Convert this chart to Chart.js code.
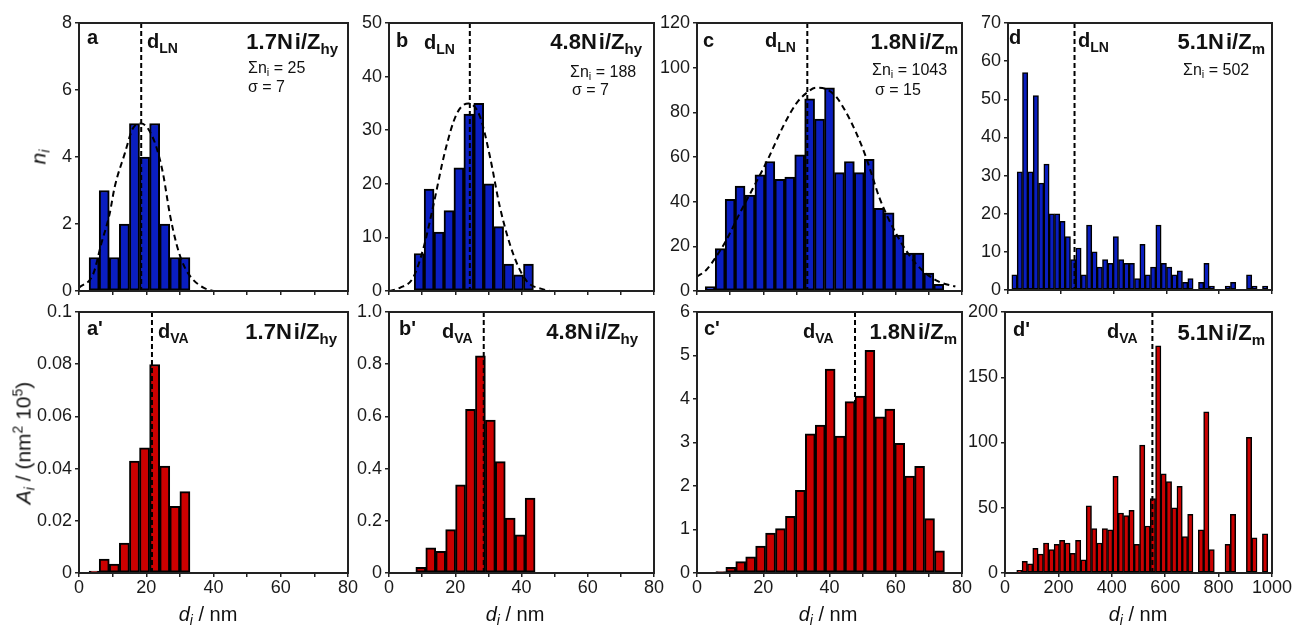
<!DOCTYPE html>
<html>
<head>
<meta charset="utf-8">
<script src="https://cdn.jsdelivr.net/npm/chart.js@4.4.0/dist/chart.umd.min.js"></script>
<style>
  body { margin: 0; background: #fff; }
  #wrap { position: relative; width: 1292px; height: 628px; overflow: hidden; font-family: 'Liberation Sans', Arial, sans-serif; color: #111; }
  #wrap canvas { position: absolute; }
  .t { position: absolute; white-space: nowrap; line-height: 1; }
  .t sub, .t sup { line-height: 0; }
  .bold { font-weight: bold; }
</style>
</head>
<body>
<div id="wrap"></div>
<script>
// ---- data (nm, counts, areas) ----
// top row: number of particles per bin
const aStart = 3, aWidth = 3;
const aCounts = [1, 3, 1, 2, 5, 4, 5, 2, 1, 1];
const bStart = 7.6, bWidth = 3;
const bCounts = [7, 19, 11, 15, 23, 33, 35, 20, 12, 5, 3, 5];
const cStart = 2.5, cWidth = 3;
const cCounts = [2, 19, 41, 47, 43, 52, 58, 50, 51, 61, 86, 77, 91, 53, 58, 53, 59, 37, 35, 25, 17, 17, 8, 3];
const dStart = 14.5, dWidth = 20.2;
const dCounts = [4, 31, 57, 31, 51, 28, 33, 20, 20, 18, 14, 8, 11, 4, 17, 10, 6, 8, 7, 14,
                 8, 7, 7, 3, 12, 4, 6, 17, 7, 6, 4, 5, 2, 3, 0, 2, 7, 1, 0, 0,
                 1, 2, 0, 0, 4, 1, 0, 1];

// bottom row: area per bin
const a2Start = 3, a2Width = 3;
const aAreas = [0.0007, 0.0053, 0.0034, 0.0115, 0.0429, 0.048, 0.0799, 0.041, 0.0255, 0.0312];
const b2Start = 8.1, b2Width = 3;
const bAreas = [0.022, 0.096, 0.083, 0.166, 0.338, 0.627, 0.832, 0.586, 0.427, 0.21, 0.146, 0.287];
const c2Start = 2.7, c2Width = 3;
const cAreas = [0.01, 0.03, 0.13, 0.26, 0.37, 0.62, 0.92, 1.02, 1.3, 1.9, 3.2, 3.4, 4.69, 3.15, 3.94, 4.07,
                5.12, 3.59, 3.77, 2.98, 2.23, 2.45, 1.25, 0.51];
const d2Start = 44, d2Width = 20;
const dAreas = [2, 9, 7, 19, 14.5, 23, 18, 22, 25, 23, 15, 25, 10, 51.5, 34, 23, 34, 33, 74, 46,
                44, 48, 22, 98, 36, 57, 174, 76, 70, 50, 66.5, 28, 45, 0, 33, 123.5, 18, 0, 0, 22,
                45, 0, 0, 104, 27, 0, 30];

// fitted distributions (dashed curves)
const aFitX = [0, 4.2, 6.6, 9.1, 10.6, 13.6, 16, 18.5, 20.5, 23, 25, 27, 29, 31, 33.4, 37, 40];
const aFitY = [0.1, 0.5, 1.4, 2.3, 3.1, 4.1, 4.85, 5.0, 4.85, 4.3, 3.5, 2.3, 1.4, 0.8, 0.4, 0.1, 0];
const bFitX = [0, 3.3, 7.3, 10.4, 13.4, 16.9, 20.4, 24, 27.5, 30.5, 33.5, 37.5, 41.5, 46.6, 48.6];
const bFitY = [0, 0.6, 2.5, 8, 16, 26, 33, 35, 32.5, 25, 15.6, 6.9, 1.9, 0.3, 0];
const cFitX = [0, 2.8, 5.8, 8.9, 12.9, 16.9, 21.4, 26, 30, 33, 36, 39, 42, 45, 48, 51, 53, 55, 57.6, 60, 63, 66, 69, 73, 78];
const cFitY = [6.4, 9.4, 15.4, 22.9, 34.8, 46, 59, 73.7, 84, 88.6, 91, 90.4, 87, 80, 71, 60, 51, 42, 33, 26, 18.4, 12.4, 8, 4.2, 2];

// mean diameters (dashed vertical lines)
const dLN = [18.5, 24.4, 33.3, 252];
const dVA = [21.7, 28.6, 47.7, 552];

// tick labels
const yTicksA = ['0', '2', '4', '6', '8'];
const yTicksB = ['0', '10', '20', '30', '40', '50'];
const yTicksC = ['0', '20', '40', '60', '80', '100', '120'];
const yTicksD = ['0', '10', '20', '30', '40', '50', '60', '70'];
const yTicksA2 = ['0', '0.02', '0.04', '0.06', '0.08', '0.1'];
const yTicksB2 = ['0', '0.2', '0.4', '0.6', '0.8', '1.0'];
const yTicksC2 = ['0', '1', '2', '3', '4', '5', '6'];
const yTicksD2 = ['0', '50', '100', '150', '200'];
const xTicksNm = ['0', '', '20', '', '40', '', '60', '', '80'];
const xTicksD = ['0', '200', '400', '600', '800', '1000'];

const BLUE = '#0a1ec0';
const RED = '#cc0000';

Chart.defaults.font.family = "'Liberation Sans', Arial, sans-serif";
Chart.defaults.font.size = 18;
Chart.defaults.color = '#1a1a1a';

const wrap = document.getElementById('wrap');

const frame = {
  id: 'frame',
  afterDatasetsDraw(chart, args, o) {
    const { ctx, chartArea: a, scales } = chart;
    ctx.save();
    if (o.marker != null) {
      const px = scales.x.getPixelForValue(o.marker);
      ctx.setLineDash([5, 3]);
      ctx.lineWidth = 2;
      ctx.strokeStyle = '#000';
      ctx.beginPath();
      ctx.moveTo(px, a.top);
      ctx.lineTo(px, a.bottom);
      ctx.stroke();
    }
    ctx.setLineDash([]);
    ctx.lineWidth = 2;
    ctx.strokeStyle = '#222';
    ctx.strokeRect(a.left, a.top, a.right - a.left, a.bottom - a.top);
    ctx.restore();
  }
};

function bins(start, width, values) {
  return values.map((v, i) => ({ x: start + width * (i + 0.5), y: v }));
}

function pairs(xs, ys) {
  return xs.map((x, i) => ({ x: x, y: ys[i] }));
}

function panel(rect, o) {
  const YW = 62, PT = 16, PR = 24;
  const XH = o.xShow ? 30 : 24;
  const w = rect[2] - rect[0] + YW + PR;
  const h = rect[3] - rect[1] + PT + XH;
  const cv = document.createElement('canvas');
  cv.width = w; cv.height = h;
  cv.style.left = (rect[0] - YW) + 'px';
  cv.style.top = (rect[1] - PT) + 'px';
  cv.style.width = w + 'px';
  cv.style.height = h + 'px';
  wrap.appendChild(cv);

  const datasets = [{
    type: 'bar',
    data: o.bars,
    backgroundColor: o.color,
    borderColor: '#000',
    borderWidth: o.xMax > 100 ? 1.5 : 2,
    borderSkipped: false,
    barPercentage: 1,
    categoryPercentage: 1,
    order: 1
  }];
  if (o.fit) {
    datasets.push({
      type: 'line',
      data: o.fit,
      borderColor: '#000',
      borderWidth: 2,
      borderDash: [6, 4],
      pointRadius: 0,
      cubicInterpolationMode: 'monotone',
      fill: false,
      order: 0
    });
  }

  const yMax = parseFloat(o.yTicks[o.yTicks.length - 1]);
  const yStep = parseFloat(o.yTicks[1]);
  const gridOpts = { drawOnChartArea: false, drawTicks: true, tickLength: 4, color: '#222', lineWidth: 1.5, offset: false };
  const borderOpts = { display: true, color: '#222', width: 2 };

  new Chart(cv, {
    type: 'bar',
    data: { datasets: datasets },
    options: {
      responsive: false,
      animation: false,
      devicePixelRatio: 1,
      layout: { padding: { top: PT, right: PR, left: 0, bottom: 0 } },
      plugins: {
        legend: { display: false },
        tooltip: { enabled: false },
        frame: { marker: o.marker }
      },
      scales: {
        x: {
          type: 'linear',
          min: 0,
          max: o.xMax,
          offset: false,
          grid: gridOpts,
          border: borderOpts,
          ticks: {
            display: o.xShow,
            stepSize: o.xStep,
            autoSkip: false,
            maxRotation: 0,
            padding: 0,
            callback: (v, i) => o.xTicks[i]
          },
          afterFit(s) { s.height = XH; }
        },
        y: {
          min: 0,
          max: yMax,
          grid: gridOpts,
          border: borderOpts,
          ticks: {
            stepSize: yStep,
            autoSkip: false,
            padding: 3,
            callback: (v, i) => o.yTicks[i]
          },
          afterFit(s) { s.width = YW; }
        }
      }
    },
    plugins: [frame]
  });
}

// top row
panel([79, 23, 348, 291], { bars: bins(aStart, aWidth, aCounts), fit: pairs(aFitX, aFitY), color: BLUE, marker: dLN[0], yTicks: yTicksA, xMax: 80, xStep: 10, xTicks: xTicksNm, xShow: false });
panel([389, 23, 654, 291], { bars: bins(bStart, bWidth, bCounts), fit: pairs(bFitX, bFitY), color: BLUE, marker: dLN[1], yTicks: yTicksB, xMax: 80, xStep: 10, xTicks: xTicksNm, xShow: false });
panel([697, 23, 962, 291], { bars: bins(cStart, cWidth, cCounts), fit: pairs(cFitX, cFitY), color: BLUE, marker: dLN[2], yTicks: yTicksC, xMax: 80, xStep: 10, xTicks: xTicksNm, xShow: false });
panel([1008, 23, 1272, 290], { bars: bins(dStart, dWidth, dCounts), color: BLUE, marker: dLN[3], yTicks: yTicksD, xMax: 1000, xStep: 200, xTicks: xTicksD, xShow: false });

// bottom row
panel([79, 312, 348, 573], { bars: bins(a2Start, a2Width, aAreas), color: RED, marker: dVA[0], yTicks: yTicksA2, xMax: 80, xStep: 10, xTicks: xTicksNm, xShow: true });
panel([389, 312, 654, 573], { bars: bins(b2Start, b2Width, bAreas), color: RED, marker: dVA[1], yTicks: yTicksB2, xMax: 80, xStep: 10, xTicks: xTicksNm, xShow: true });
panel([697, 312, 962, 573], { bars: bins(c2Start, c2Width, cAreas), color: RED, marker: dVA[2], yTicks: yTicksC2, xMax: 80, xStep: 10, xTicks: xTicksNm, xShow: true });
panel([1005, 312, 1272, 573], { bars: bins(d2Start, d2Width, dAreas), color: RED, marker: dVA[3], yTicks: yTicksD2, xMax: 1000, xStep: 200, xTicks: xTicksD, xShow: true });

// ---- text overlays ----
function txt(html, x, base, size, opts) {
  opts = opts || {};
  const el = document.createElement('div');
  el.className = 't' + (opts.bold ? ' bold' : '');
  el.innerHTML = html;
  el.style.fontSize = size + 'px';
  el.style.left = x + 'px';
  el.style.top = (base - 0.8465 * size) + 'px';
  if (opts.align === 'right') el.style.transform = 'translateX(-100%)';
  if (opts.align === 'center') el.style.transform = 'translateX(-50%)';
  wrap.appendChild(el);
  return el;
}

function vtxt(html, cx, cy, size) {
  const el = document.createElement('div');
  el.className = 't';
  el.innerHTML = html;
  el.style.fontSize = size + 'px';
  el.style.left = cx + 'px';
  el.style.top = cy + 'px';
  el.style.transform = 'translate(-50%, -50%) rotate(-90deg)';
  wrap.appendChild(el);
}

const sub = (s, px) => `<sub style="font-size:${px}px;vertical-align:-5px">${s}</sub>`;
const name = (num, zsub) => `${num}N<span style="margin-left:2px">i</span>/Z${sub(zsub, 15)}`;
const sig = (n) => `&Sigma;n<sub style="font-size:11px;vertical-align:-3px">i</sub> = ${n}`;

// panel letters
txt('a', 87, 44, 20, { bold: true });
txt('b', 396, 47, 20, { bold: true });
txt('c', 703, 47, 20, { bold: true });
txt('d', 1009, 44, 20, { bold: true });
txt("a'", 87, 335, 20, { bold: true });
txt("b'", 399, 335, 20, { bold: true });
txt("c'", 704, 335, 20, { bold: true });
txt("d'", 1013, 336, 20, { bold: true });

// mean diameter labels
txt('d' + sub('LN', 14), 147, 48, 20, { bold: true });
txt('d' + sub('LN', 14), 424, 49, 20, { bold: true });
txt('d' + sub('LN', 14), 765, 47, 20, { bold: true });
txt('d' + sub('LN', 14), 1078, 47, 20, { bold: true });
txt('d' + sub('VA', 14), 158, 338, 20, { bold: true });
txt('d' + sub('VA', 14), 442, 338, 20, { bold: true });
txt('d' + sub('VA', 14), 803, 338, 20, { bold: true });
txt('d' + sub('VA', 14), 1107, 338, 20, { bold: true });

// sample names
txt(name('1.7', 'hy'), 338, 50, 22, { bold: true, align: 'right' });
txt(name('4.8', 'hy'), 642, 50, 22, { bold: true, align: 'right' });
txt(name('1.8', 'm'), 958, 50, 22, { bold: true, align: 'right' });
txt(name('5.1', 'm'), 1265, 50, 22, { bold: true, align: 'right' });
txt(name('1.7', 'hy'), 337, 340, 22, { bold: true, align: 'right' });
txt(name('4.8', 'hy'), 638, 340, 22, { bold: true, align: 'right' });
txt(name('1.8', 'm'), 957, 340, 22, { bold: true, align: 'right' });
txt(name('5.1', 'm'), 1265, 341, 22, { bold: true, align: 'right' });

// statistics
txt(sig(25), 248, 74, 16);
txt('&sigma; = 7', 248, 93, 16);
txt(sig(188), 570, 78, 16);
txt('&sigma; = 7', 572, 96, 16);
txt(sig(1043), 872, 76, 16);
txt('&sigma; = 15', 875, 96, 16);
txt(sig(502), 1183, 76, 16);

// axis titles
vtxt('<i>n</i><sub style="font-size:14px;vertical-align:-4px"><i>i</i></sub>', 38, 157, 21);
vtxt('<i>A</i><sub style="font-size:14px;vertical-align:-4px"><i>i</i></sub> / (nm<sup style="font-size:14px;vertical-align:8px">2</sup> 10<sup style="font-size:14px;vertical-align:8px">5</sup>)', 23, 443, 21);
const xTitle = '<i>d</i><sub style="font-size:14px;vertical-align:-4px"><i>i</i></sub> / nm';
txt(xTitle, 208, 621, 20, { align: 'center' });
txt(xTitle, 515, 621, 20, { align: 'center' });
txt(xTitle, 828, 621, 20, { align: 'center' });
txt(xTitle, 1138, 621, 20, { align: 'center' });
</script>
</body>
</html>
